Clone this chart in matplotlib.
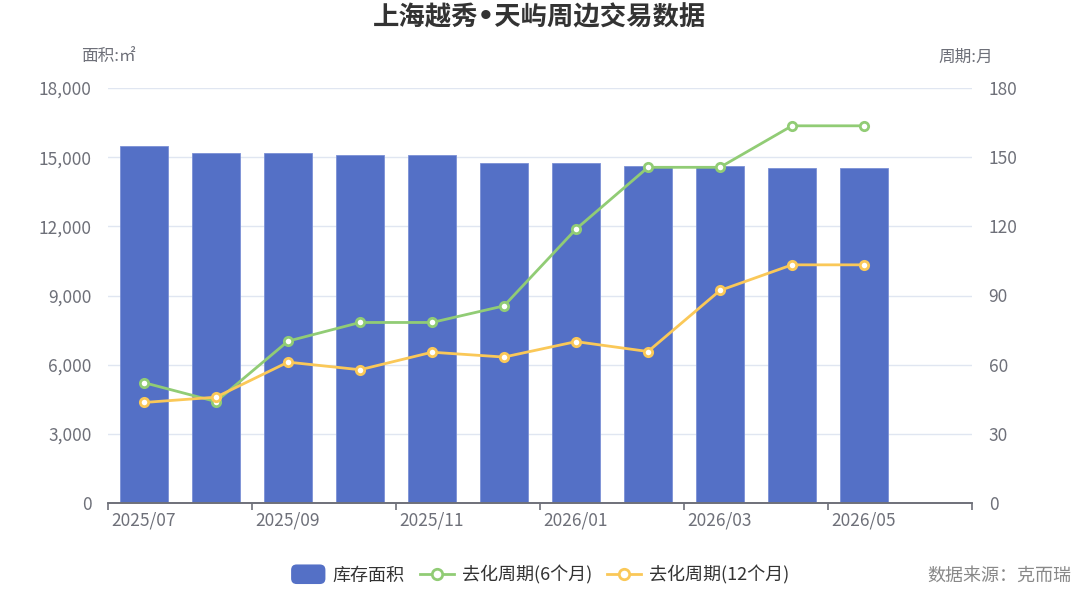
import matplotlib
matplotlib.use("Agg")
import matplotlib.pyplot as plt
from matplotlib.lines import Line2D
from matplotlib.patches import FancyBboxPatch, Patch
from matplotlib.legend_handler import HandlerPatch

plt.rcParams['font.family'] = ['Noto Sans CJK SC', 'DejaVu Sans']

# data
months = ['2025/07', '2025/08', '2025/09', '2025/10', '2025/11', '2025/12',
          '2026/01', '2026/02', '2026/03', '2026/04', '2026/05', '2026/06']
stock_area = [15500, 15200, 15200, 15090, 15090, 14750, 14750, 14600, 14600, 14530, 14530]
cycle_6m = [52.2, 44.0, 70.2, 78.3, 78.3, 85.5, 118.8, 145.6, 145.6, 163.6, 163.6]
cycle_12m = [43.6, 45.9, 61.1, 57.8, 65.4, 63.3, 70.0, 65.7, 92.2, 103.3, 103.3]
left_ticks = [0, 3000, 6000, 9000, 12000, 15000, 18000]
right_ticks = [0, 30, 60, 90, 120, 150, 180]

BLUE = '#5470c6'
GREEN = '#91cc75'
YELLOW = '#fac858'
AXIS = '#6e7079'
GRID = '#e0e6f1'

fig = plt.figure(figsize=(10.8, 5.93), dpi=100)
ax = fig.add_axes([0.1, 1 - 503 / 593, 0.8, 415 / 593])
ax2 = ax.twinx()

x = list(range(len(stock_area)))
ax.bar(x, stock_area, width=0.68, color=BLUE, edgecolor='#7b90d6', linewidth=0.6, zorder=2)

for vals, col in [(cycle_6m, GREEN), (cycle_12m, YELLOW)]:
    ax2.plot(x, vals, color=col, linewidth=2, marker='o', markersize=6,
             markerfacecolor='white', markeredgecolor=col, markeredgewidth=2, zorder=3)

ax.set_xlim(-0.5, len(months) - 0.5)
ax.set_ylim(0, 18000)
ax2.set_ylim(0, 180)
ax.set_yticks(left_ticks)
ax.set_yticklabels([f'{v:,}' for v in left_ticks])
ax2.set_yticks(right_ticks)
ax2.set_yticklabels([str(v) for v in right_ticks])

ax.grid(axis='y', color=GRID, linewidth=1, zorder=0)
ax.set_axisbelow(True)

# boundary ticks every two categories, labels at category centres
ax.set_xticks([i - 0.5 for i in range(0, len(months) + 1, 2)])
ax.set_xticklabels([])
ax.set_xticks(list(range(0, len(months), 2)), minor=True)
ax.set_xticklabels(months[::2], minor=True)
ax.tick_params(axis='x', which='major', length=5, width=1.2, color=AXIS)
ax.tick_params(axis='x', which='minor', length=0, pad=6, labelsize=12.5, labelcolor=AXIS)
ax.tick_params(axis='y', length=0, pad=12, labelsize=12.5, labelcolor=AXIS)
ax2.tick_params(axis='y', length=0, pad=12, labelsize=12.5, labelcolor=AXIS)

for a in (ax, ax2):
    for s in ('top', 'left', 'right'):
        a.spines[s].set_visible(False)
    a.spines['bottom'].set_color(AXIS)
    a.spines['bottom'].set_linewidth(1.2)

fig.text(0.5, 1 - 18 / 593, '上海越秀•天屿周边交易数据', ha='center', va='center',
         fontsize=19, fontweight='bold', color='#333333',
         family=['DejaVu Sans', 'Noto Sans CJK SC'])
fig.text(108 / 1080, 1 - 57 / 593, '面积:㎡', ha='center', va='center', fontsize=12, color=AXIS)
fig.text(966 / 1080, 1 - 57 / 593, '周期:月', ha='center', va='center', fontsize=12, color=AXIS)
fig.text(1071 / 1080, 1 - 576 / 593, '数据来源：克而瑞', ha='right', va='center',
         fontsize=13, color='#888888')


class RoundRectHandler(HandlerPatch):
    def create_artists(self, legend, orig_handle, xdescent, ydescent, width, height, fontsize, trans):
        p = FancyBboxPatch((-xdescent, -ydescent - 2.5), width, height + 5,
                           boxstyle='round,pad=0,rounding_size=4',
                           facecolor=orig_handle.get_facecolor(), edgecolor='none', transform=trans)
        return [p]


handles = [
    Patch(color=BLUE, label='库存面积'),
    Line2D([], [], color=GREEN, linewidth=2, marker='o', markersize=7.5,
           markerfacecolor='white', markeredgewidth=2, label='去化周期(6个月)'),
    Line2D([], [], color=YELLOW, linewidth=2, marker='o', markersize=7.5,
           markerfacecolor='white', markeredgewidth=2, label='去化周期(12个月)'),
]
fig.legend(handles=handles, loc='center', bbox_to_anchor=(540 / 1080, 1 - 575 / 593), ncol=3,
           frameon=False, fontsize=13, handlelength=1.9, handletextpad=0.4, columnspacing=0.85,
           labelcolor='#333333', handler_map={Patch: RoundRectHandler()})

fig.savefig('out.png', dpi=100)
